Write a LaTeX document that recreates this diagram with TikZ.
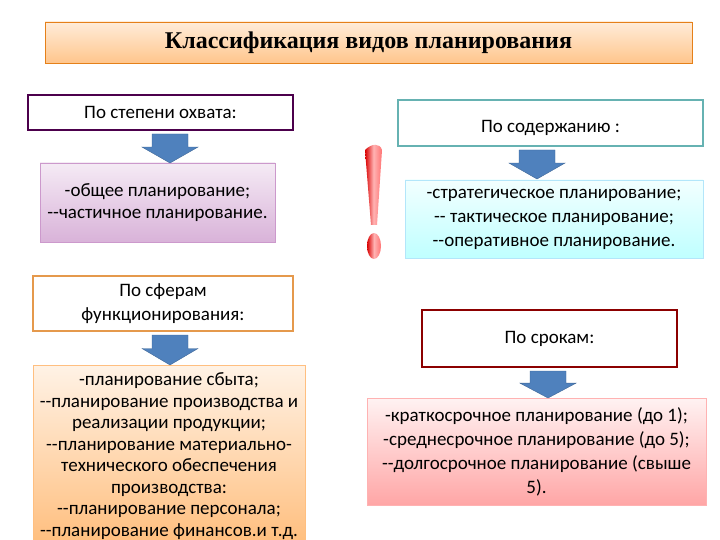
\documentclass[tikz,border=0pt]{standalone}
\usepackage{fontspec}
\setmainfont{Carlito}[Ligatures=NoCommon]
\newfontfamily\titlefont{Liberation Serif}
\begin{document}
\begin{tikzpicture}[x=1pt,y=-1pt,
  hdr/.style={draw=#1,line width=1.2pt,fill=white,inner sep=0pt},
  txt/.style={align=center,font=\fontsize{19}{24}\selectfont}]
\useasboundingbox (0,0) rectangle (720,540);
\definecolor{arrblue}{HTML}{4F81BD}
\tikzset{arr/.style={fill=arrblue,draw=arrblue!80!black,line width=0.4pt}}
\newcommand{\downarr}[3]{\path[arr] (#1-18,#2) -- (#1+18,#2) -- (#1+18,#2+0.45*#3) -- (#1+28,#2+0.45*#3) -- (#1,#2+#3) -- (#1-28,#2+0.45*#3) -- (#1-18,#2+0.45*#3) -- cycle;}
% title
\node[draw=orange!60!brown,line width=0.6pt,top color=orange!15,bottom color=orange!45,minimum width=647,minimum height=41,inner sep=0pt] (title) at (368.5,42.5) {\titlefont\bfseries\fontsize{24}{26}\selectfont Классификация видов планирования};
% left column
\node[hdr=violet!60!black,minimum width=265,minimum height=35] (b1) at (160.5,112.5) {};
\node[txt] at (b1) {По степени охвата:};
\node[draw=violet!40,top color=violet!8,bottom color=violet!30,minimum width=235,minimum height=79,inner sep=0pt] (b2) at (157.5,202.5) {};
\node[txt,font=\fontsize{19}{22}\selectfont] at (b2) {-общее планирование;\\-{}-частичное планирование.};
\node[hdr=orange!50!brown!80,minimum width=260,minimum height=55] (b3) at (163,303.5) {};
\node[txt] at (b3) {По сферам\\функционирования:};
\node[draw=orange!50,top color=orange!10,bottom color=orange!50,minimum width=272,minimum height=175,inner sep=0pt] (b4) at (169,453) {};
\node[txt,font=\fontsize{19}{21.5}\selectfont] at (169,456) {-планирование сбыта;\\-{}-планирование производства и\\реализации продукции;\\-{}-планирование материально-\\технического обеспечения\\производства:\\-{}-планирование персонала;\\-{}-планирование финансов.и т.д.};
% right column
\node[hdr=teal!60,minimum width=305,minimum height=46] (b5) at (550.5,123) {};
\node[txt] at (550.5,128) {По содержанию :};
\node[draw=cyan!30,top color=cyan!5,bottom color=cyan!25,minimum width=298,minimum height=78,inner sep=0pt] (b6) at (554,219) {};
\node[txt] at (b6) {-стратегическое планирование;\\-{}- тактическое планирование;\\-{}-оперативное планирование.};
\node[hdr=red!55!black,minimum width=255,minimum height=57] (b7) at (549.5,338.5) {};
\node[txt] at (b7) {По срокам:};
\node[draw=red!30,top color=red!5,bottom color=red!35,minimum width=339,minimum height=107,inner sep=0pt] (b8) at (536.5,451.5) {};
\node[txt] at (b8) {-краткосрочное планирование (до 1);\\-среднесрочное планирование (до 5);\\-{}-долгосрочное планирование (свыше\\5).};
% arrows
\downarr{170}{134}{29}
\downarr{170}{335}{30}
\downarr{537}{150}{29}
\downarr{548}{371}{27}
% exclamation mark
\path[left color=red!85!black,right color=red!55,middle color=red!30] (365,150) .. controls (372,143) and (380,143) .. (382,150) -- (377,225) -- (371,225) -- cycle;
\path[left color=red!85!black,right color=red!55,middle color=red!30] (374,246) ellipse (7 and 13);
\end{tikzpicture}
\end{document}
